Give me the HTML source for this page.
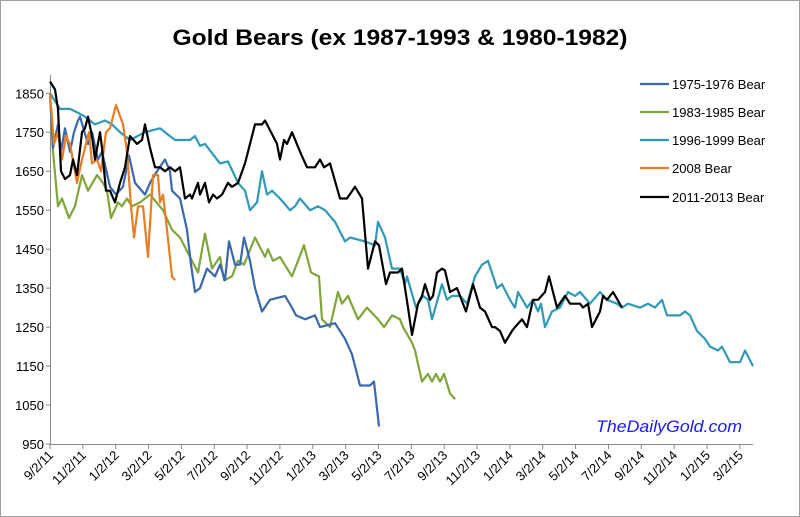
<!DOCTYPE html>
<html><head><meta charset="utf-8"><style>
html,body{margin:0;padding:0;background:#fff}
svg{display:block;font-family:"Liberation Sans",sans-serif}
</style></head><body>
<svg id="c" width="800" height="517" viewBox="0 0 800 517" xmlns="http://www.w3.org/2000/svg">
<rect x="0.5" y="0.5" width="799" height="516" fill="#fff" stroke="#a0a0a0"/>
<text x="400" y="45" text-anchor="middle" font-size="22" font-weight="bold" textLength="455" lengthAdjust="spacingAndGlyphs">Gold Bears (ex 1987-1993 &amp; 1980-1982)</text>
<g id="axes" stroke="#888" stroke-width="1" fill="none"></g>
<g id="ylab" font-size="13" text-anchor="end" fill="#000"></g>
<g id="xlab" font-size="13" text-anchor="end" fill="#000"></g>
<g id="series" fill="none" stroke-width="2.2" stroke-linejoin="round"></g>
<g font-size="13" fill="#000">
<line x1="640" y1="84" x2="669" y2="84" stroke="#3a68b0" stroke-width="2.2"/><text x="672" y="89">1975-1976 Bear</text>
<line x1="640" y1="112" x2="669" y2="112" stroke="#7ea63a" stroke-width="2.2"/><text x="672" y="117">1983-1985 Bear</text>
<line x1="640" y1="140" x2="669" y2="140" stroke="#2f9ab7" stroke-width="2.2"/><text x="672" y="145">1996-1999 Bear</text>
<line x1="640" y1="168" x2="669" y2="168" stroke="#e77e26" stroke-width="2.2"/><text x="672" y="173">2008 Bear</text>
<line x1="640" y1="197" x2="669" y2="197" stroke="#000" stroke-width="2.2"/><text x="672" y="202">2011-2013 Bear</text>
</g>
<text x="596" y="432" font-size="17" font-style="italic" fill="#1a1aff" textLength="146" lengthAdjust="spacingAndGlyphs">TheDailyGold.com</text>
</svg>
<script>
var NS="http://www.w3.org/2000/svg";
function Y(v){return 444-(v-950)*0.3897;}
function el(p,t,a,txt){var e=document.createElementNS(NS,t);for(var k in a)e.setAttribute(k,a[k]);if(txt)e.textContent=txt;document.getElementById(p).appendChild(e);}
el("axes","line",{x1:50.5,y1:75,x2:50.5,y2:444});
el("axes","line",{x1:50,y1:444.5,x2:753,y2:444.5});
for(var v=950;v<=1850;v+=100){el("axes","line",{x1:46,y1:Y(v),x2:50,y2:Y(v)});el("ylab","text",{x:44,y:Y(v)+5},String(v));}
var xl=["9/2/11","11/2/11","1/2/12","3/2/12","5/2/12","7/2/12","9/2/12","11/2/12","1/2/13","3/2/13","5/2/13","7/2/13","9/2/13","11/2/13","1/2/14","3/2/14","5/2/14","7/2/14","9/2/14","11/2/14","1/2/15","3/2/15"];
for(var i=0;i<xl.length;i++){var x=50+i*32.85;el("axes","line",{x1:x,y1:444,x2:x,y2:449});el("xlab","text",{x:x+4,y:456,transform:"rotate(-45 "+(x+4)+" 456)"},xl[i]);}
function S(c,d){var s="";for(var i=0;i<d.length;i+=2)s+=(i?"L":"M")+d[i]+","+Y(d[i+1]).toFixed(1);el("series","path",{d:s,stroke:c});}
S("#2f9ab7",[50,1850,55,1830,60,1810,70,1810,78,1800,85,1790,95,1770,105,1780,112,1770,120,1750,130,1730,145,1750,160,1760,175,1730,190,1730,195,1740,200,1715,205,1720,220,1670,228,1675,238,1620,245,1600,250,1550,257,1570,262,1650,267,1590,272,1600,280,1580,290,1550,295,1560,300,1580,310,1550,318,1560,325,1550,335,1520,345,1470,350,1480,365,1470,375,1460,378,1520,385,1480,392,1400,400,1400,405,1360,407,1380,416,1300,423,1330,428,1320,432,1270,442,1360,447,1320,452,1330,460,1330,467,1310,475,1380,482,1410,488,1420,497,1350,502,1360,510,1320,515,1300,518,1340,527,1300,533,1320,538,1290,541,1310,545,1250,552,1290,560,1300,568,1340,575,1330,580,1340,590,1310,600,1340,607,1320,617,1310,622,1300,628,1310,640,1300,648,1310,655,1300,662,1320,667,1280,680,1280,685,1290,690,1280,697,1240,705,1220,710,1200,718,1190,722,1200,730,1160,740,1160,745,1190,753,1150]);
S("#7ea63a",[50,1850,53,1700,58,1560,62,1580,69,1530,75,1560,82,1640,88,1600,97,1640,103,1620,107,1600,111,1530,118,1570,122,1560,127,1580,132,1560,140,1570,150,1590,163,1550,172,1500,180,1480,194,1410,198,1390,205,1490,212,1400,220,1430,224,1370,232,1380,238,1420,244,1410,255,1480,265,1430,268,1450,273,1420,280,1430,292,1380,304,1460,311,1390,319,1380,322,1270,330,1250,338,1340,342,1310,348,1330,358,1270,367,1300,378,1270,384,1250,392,1280,400,1270,403,1250,412,1210,415,1190,422,1110,428,1130,432,1110,436,1130,440,1110,444,1130,450,1080,455,1065]);
S("#3a68b0",[50,1850,53,1710,58,1770,61,1700,65,1760,70,1700,74,1750,78,1780,80,1790,88,1720,92,1750,98,1680,102,1700,110,1610,116,1590,123,1610,129,1690,135,1620,145,1590,150,1620,157,1650,165,1680,170,1650,172,1600,180,1580,187,1500,191,1410,195,1340,200,1350,207,1400,215,1380,220,1410,225,1370,229,1470,235,1410,240,1410,244,1480,250,1420,255,1350,262,1290,270,1320,285,1330,292,1300,296,1280,305,1270,315,1280,320,1250,335,1260,345,1220,352,1180,360,1100,370,1100,374,1110,379,995]);
S("#e77e26",[50,1850,54,1720,58,1750,62,1680,66,1740,70,1720,77,1620,82,1680,89,1750,92,1670,97,1680,101,1650,106,1750,110,1760,116,1820,123,1770,127,1700,131,1560,134,1480,138,1560,143,1560,148,1430,153,1640,158,1640,160,1570,163,1590,167,1500,172,1380,175,1370]);
S("#000",[50,1880,55,1860,58,1810,61,1650,65,1630,70,1640,73,1680,77,1640,82,1750,85,1760,88,1790,92,1740,95,1680,100,1750,102,1710,106,1600,110,1600,115,1570,120,1620,125,1660,130,1740,137,1720,142,1730,145,1770,150,1710,155,1660,160,1660,165,1650,170,1660,175,1650,180,1660,185,1580,190,1590,192,1580,198,1620,200,1590,205,1620,209,1570,213,1590,217,1580,222,1590,228,1620,232,1610,238,1620,245,1670,255,1770,262,1770,265,1780,277,1720,280,1680,284,1730,287,1720,292,1750,300,1700,307,1660,315,1660,320,1680,324,1660,330,1670,340,1580,347,1580,355,1610,362,1580,368,1400,375,1470,379,1460,386,1360,390,1390,398,1390,402,1400,408,1300,412,1230,418,1310,422,1330,425,1360,430,1320,433,1330,437,1390,442,1400,445,1395,450,1340,457,1350,466,1290,473,1360,480,1300,485,1290,492,1250,495,1250,500,1240,505,1210,512,1240,515,1250,522,1270,527,1250,533,1320,538,1320,545,1340,549,1380,557,1300,565,1330,570,1310,580,1310,583,1300,588,1310,592,1250,600,1290,603,1330,607,1320,613,1340,622,1300]);
</script>
</body></html>
